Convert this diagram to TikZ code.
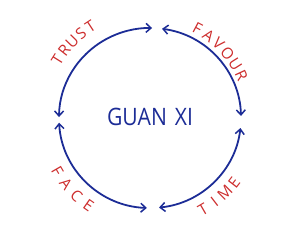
\documentclass[tikz,border=0pt]{standalone}
\usepackage{fontspec}
\setmainfont{Open Sans}
\usetikzlibrary{arrows.meta,calc}
\definecolor{penblue}{RGB}{28,44,150}
\definecolor{penred}{RGB}{205,45,45}
\begin{document}
\begin{tikzpicture}[x=1pt,y=1pt,
  barb/.tip={Straight Barb[length=5pt,width=9pt,line width=1.5pt]},
  cyc/.style={draw=penblue, line width=1.8pt, barb-barb},
  lab/.style={text=penred, font=\fontsize{15.5}{15.5}\selectfont, inner sep=0pt},
  ttl/.style={text=penblue, font=\fontsize{24}{24}\selectfont, inner sep=0pt}]
\useasboundingbox (0,0) rectangle (300,227);
\coordinate (c) at (150,109);
\node[ttl, xscale=0.88] (title) at (150,110) {GUAN\hspace{9pt}XI};
% cycle arcs
\coordinate (t1) at ($(c)+(179.4:91 and 90)$);
\coordinate (f1) at ($(c)+(82.4:91 and 90)$);
\coordinate (m1) at ($(c)+(-6.4:91 and 90)$);
\coordinate (a1) at ($(c)+(268:91 and 90)$);
\draw[cyc] (t1) arc[start angle=179.4, end angle=88.7, x radius=91, y radius=90];
\draw[cyc] (f1) arc[start angle=82.4, end angle=1.3, x radius=91, y radius=90];
\draw[cyc] (m1) arc[start angle=-6.4, end angle=-84.3, x radius=91, y radius=90];
\draw[cyc] (a1) arc[start angle=268, end angle=183, x radius=91, y radius=90];
% labels
\foreach \l [count=\i] in {T,R,U,S,T}{
  \pgfmathsetmacro\a{148-(\i-1)*6.2}
  \node[lab, rotate=\a-90] (trust\i) at ($(c)+(\a:109)$) {\l};}
\foreach \l [count=\i] in {F,A,V,O,U,R}{
  \pgfmathsetmacro\a{62-(\i-1)*7.4}
  \node[lab, rotate=\a-90] (favour\i) at ($(c)+(\a:101)$) {\l};}
\foreach \l [count=\i] in {T,I,M,E}{
  \pgfmathsetmacro\a{-60+(\i-1)*7.5}
  \node[lab, rotate=\a+90] (time\i) at ($(c)+(\a:106)$) {\l};}
\foreach \l [count=\i] in {F,A,C,E}{
  \pgfmathsetmacro\a{210+(\i-1)*8.3}
  \node[lab, rotate=\a+90] (face\i) at ($(c)+(\a:107)$) {\l};}
\end{tikzpicture}
\end{document}
